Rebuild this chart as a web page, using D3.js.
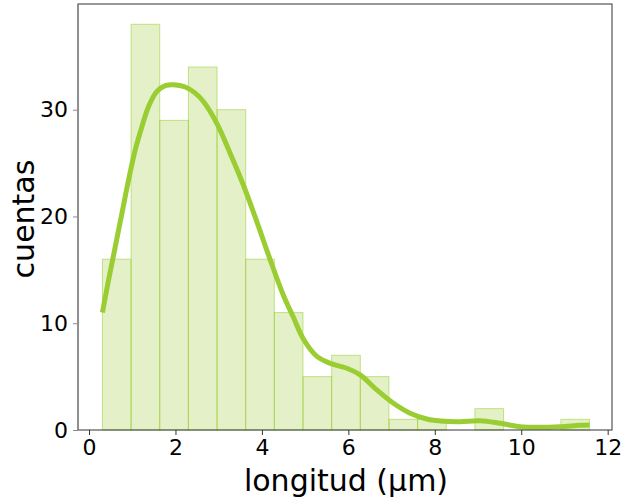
<!DOCTYPE html>
<html>
<head>
<meta charset="utf-8">
<script src="https://cdn.jsdelivr.net/npm/d3@7"></script>
<style>
  html, body { margin: 0; padding: 0; background: #fff; }
  svg { display: block; font-family: "DejaVu Sans", sans-serif; }
</style>
</head>
<body>
<svg id="chart" width="621" height="500"></svg>
<script>
// Histogram bins: [0.31, 11.58] split into 17 equal bins
const binStart = 0.31;
const binEnd = 11.58;
const counts = [16, 38, 29, 34, 30, 16, 11, 5, 7, 5, 1, 1, 0, 2, 0, 0, 1];

// KDE curve points
const kdeX = [0.31, 0.453, 0.608, 0.763, 0.916, 1.071, 1.225, 1.378, 1.572, 1.764, 1.956, 2.227, 2.458, 2.650, 2.960, 3.267, 3.575, 3.884, 4.192, 4.499, 4.724, 4.962, 5.272, 5.618, 5.965, 6.273, 6.659, 7.043, 7.429, 7.815, 8.199, 8.585, 9.047, 9.510, 9.972, 10.44, 10.90, 11.36, 11.58];
const kdeY = [11.0, 14.06, 17.18, 20.32, 23.44, 26.25, 28.43, 30.31, 31.72, 32.25, 32.34, 32.13, 31.55, 30.75, 28.7, 25.9, 22.9, 19.5, 15.94, 12.6, 10.6, 8.5, 6.9, 6.19, 5.78, 5.16, 3.75, 2.50, 1.57, 1.03, 0.82, 0.78, 0.87, 0.63, 0.31, 0.25, 0.31, 0.44, 0.47];

const xTicks = [0, 2, 4, 6, 8, 10, 12];
const yTicks = [0, 10, 20, 30];
const xLabel = "longitud (µm)";
const yLabel = "cuentas";

const color = "#9acd32";
const L = 78, R = 612, T = 4, B = 430;

const svg = d3.select("#chart");
const x = d3.scaleLinear().domain([-0.255, 12.1]).range([L, R]);
const y = d3.scaleLinear().domain([0, 39.9]).range([B, T]);

const bw = (binEnd - binStart) / counts.length;
const bins = counts.map((c, i) => ({ x0: binStart + i * bw, x1: binStart + (i + 1) * bw, c }));

svg.append("g").selectAll("rect")
  .data(bins.filter(d => d.c > 0))
  .join("rect")
  .attr("x", d => x(d.x0))
  .attr("y", d => y(d.c))
  .attr("width", d => x(d.x1) - x(d.x0))
  .attr("height", d => y(0) - y(d.c))
  .attr("fill", color)
  .attr("fill-opacity", 0.27)
  .attr("stroke", color)
  .attr("stroke-opacity", 0.55)
  .attr("stroke-width", 1);

const pts = kdeX.map((v, i) => [v, kdeY[i]]);
svg.append("path")
  .datum(pts)
  .attr("fill", "none")
  .attr("stroke", color)
  .attr("stroke-width", 5)
  .attr("stroke-linecap", "butt")
  .attr("d", d3.line().x(d => x(d[0])).y(d => y(d[1])).curve(d3.curveCatmullRom.alpha(0.5)));

// Spines
svg.append("rect").attr("x", L).attr("y", T).attr("width", R - L).attr("height", B - T)
  .attr("fill", "none").attr("stroke", "#333").attr("stroke-width", 1);
svg.append("line").attr("x1", L).attr("x2", L).attr("y1", T).attr("y2", B)
  .attr("stroke", "#8a8a8a").attr("stroke-width", 1.2);

// Axes
const xAxis = svg.append("g").attr("transform", `translate(0,${B})`)
  .call(d3.axisBottom(x).tickValues(xTicks).tickSize(5).tickPadding(4).tickFormat(d3.format("d")));
xAxis.select(".domain").remove();
xAxis.selectAll("line").attr("stroke", "#333");
xAxis.selectAll("text").attr("font-size", 22).attr("fill", "#000").attr("font-family", "DejaVu Sans");

const yAxis = svg.append("g").attr("transform", `translate(${L},0)`)
  .call(d3.axisLeft(y).tickValues(yTicks).tickSize(5).tickPadding(5).tickFormat(d3.format("d")));
yAxis.select(".domain").remove();
yAxis.selectAll("line").attr("stroke", "#8a8a8a");
yAxis.selectAll("text").attr("font-size", 22).attr("fill", "#000").attr("font-family", "DejaVu Sans");

svg.append("text")
  .attr("x", (L + R) / 2 + 1).attr("y", 491)
  .attr("text-anchor", "middle")
  .attr("font-size", 30)
  .attr("fill", "#000")
  .text(xLabel);

svg.append("text")
  .attr("transform", `translate(34,${(T + B) / 2 + 2}) rotate(-90)`)
  .attr("text-anchor", "middle")
  .attr("font-size", 30)
  .attr("fill", "#000")
  .text(yLabel);
</script>
</body>
</html>
